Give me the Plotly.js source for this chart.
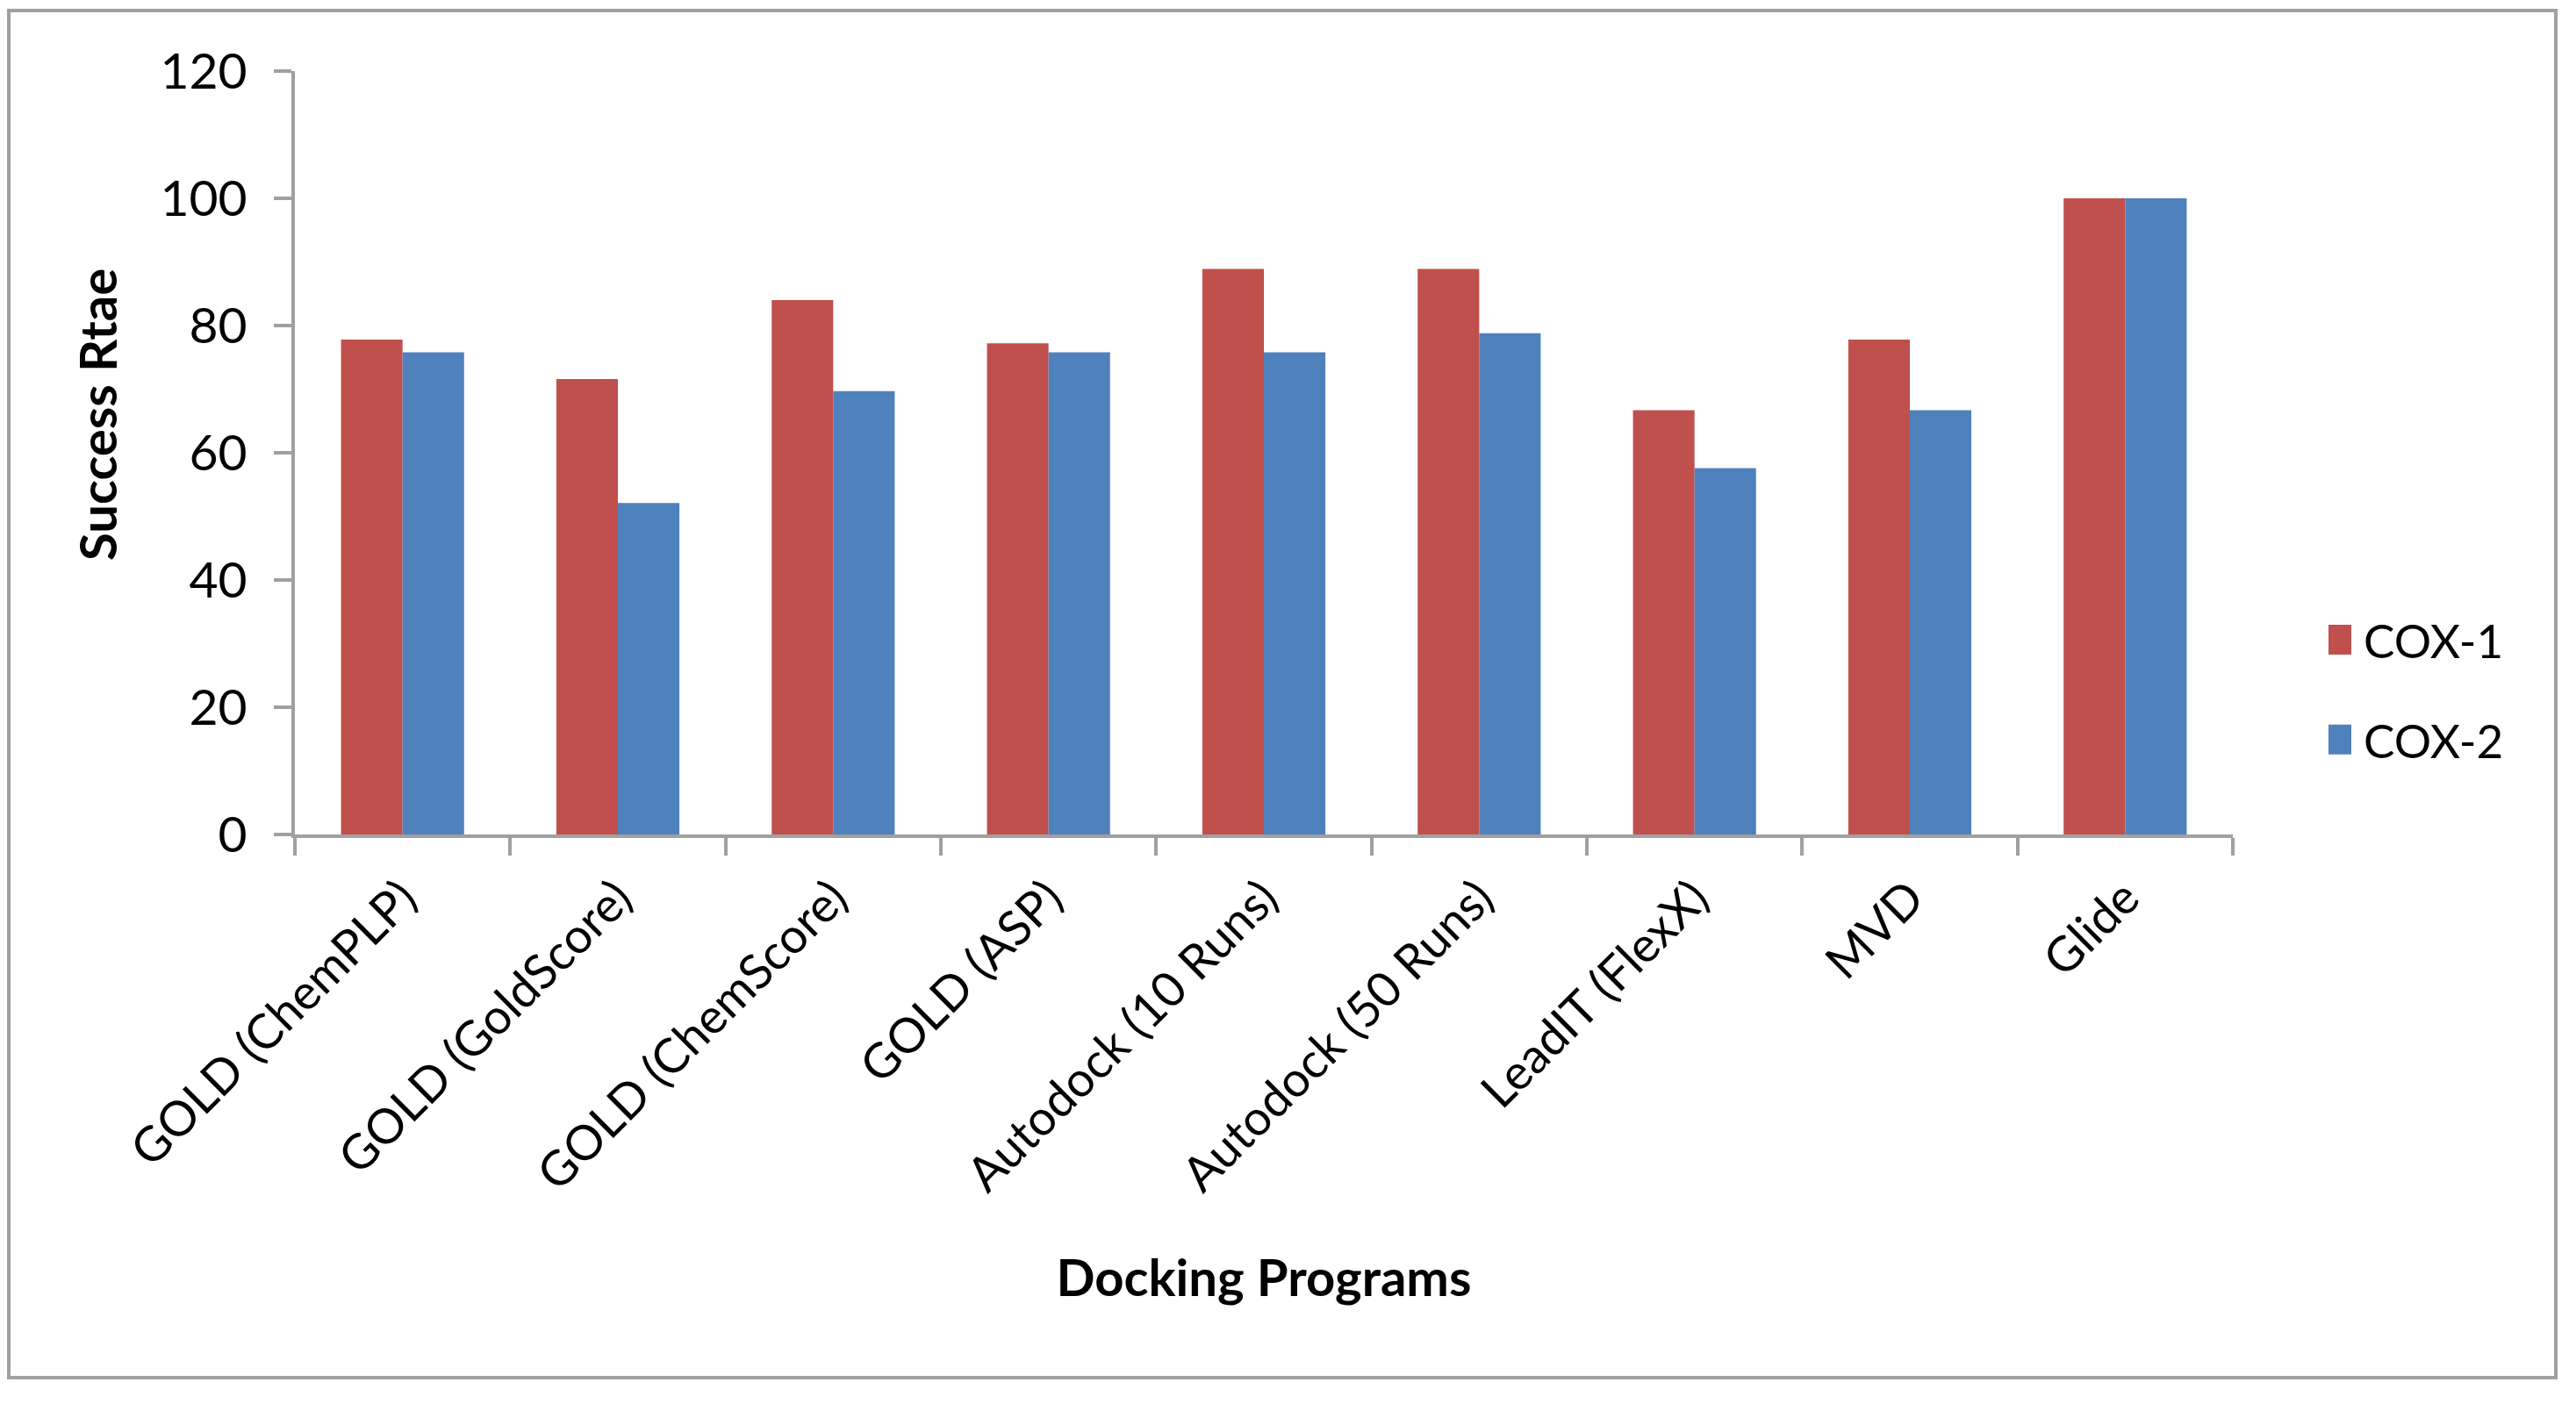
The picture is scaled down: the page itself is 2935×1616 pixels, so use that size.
<!DOCTYPE html>
<html>
<head>
<meta charset="utf-8">
<script src="https://cdn.plot.ly/plotly-3.0.1.min.js"></script>
<style>
  html, body { margin: 0; padding: 0; background: #ffffff; }
  #chart { width: 2935px; height: 1616px; }
</style>
</head>
<body>
<div id="chart"></div>
<script>
// ---- data ----
const programs = [
  "GOLD (ChemPLP)", "GOLD (GoldScore)", "GOLD (ChemScore)", "GOLD (ASP)",
  "Autodock (10 Runs)", "Autodock (50 Runs)", "LeadIT (FlexX)", "MVD", "Glide"
];
const cox1 = [77.8, 71.6, 84.0, 77.2, 88.9, 88.9, 66.7, 77.8, 100];
const cox2 = [75.8, 52.1, 69.7, 75.8, 75.8, 78.8, 57.6, 66.7, 100];
const seriesNames = ["COX-1", "COX-2"];
const seriesColors = ["#C0504D", "#4F81BD"];
const yTicks = [0, 20, 40, 60, 80, 100, 120];
const xTitle = "Docking Programs";
const yTitle = "Success Rtae";

const FONT = "Lato, 'Open Sans', sans-serif";
const AXIS_GRAY = "#A0A0A0";

const traces = [cox1, cox2].map((vals, i) => ({
  type: "bar",
  name: seriesNames[i],
  x: programs,
  y: vals,
  legendgroup: seriesNames[i],
  marker: { color: seriesColors[i], line: { width: 0 } },
  hoverinfo: "x+y+name"
}));

const W = 2935, H = 1616;
const L = 336, R = 2544, T = 81, B = 951;
const pw = R - L, ph = B - T;
const px = v => (v - L) / pw;
const py = v => (B - v) / ph;

const layout = {
  width: W,
  height: H,
  margin: { l: L, r: W - R, t: T, b: H - B, pad: 0 },
  paper_bgcolor: "#ffffff",
  plot_bgcolor: "#ffffff",
  font: { family: FONT, color: "#000000", size: 52 },
  barmode: "group",
  bargap: 0.4286,
  bargroupgap: 0,
  showlegend: true,
  legend: {
    x: px(2653), xanchor: "left",
    y: py(786), yanchor: "middle",
    traceorder: "grouped",
    tracegroupgap: 42,
    font: { family: FONT, size: 53, color: "#000000" },
    bgcolor: "rgba(0,0,0,0)",
    borderwidth: 0
  },
  xaxis: {
    type: "category",
    tickson: "boundaries",
    showline: true,
    linecolor: AXIS_GRAY,
    linewidth: 4,
    ticks: "outside",
    ticklen: 20,
    tickwidth: 4,
    tickcolor: AXIS_GRAY,
    tickangle: -45,
    ticklabelstandoff: 14,
    tickfont: { family: FONT, size: 55, color: "#000000" },
    showgrid: false,
    zeroline: false,
    title: {
      text: xTitle,
      font: { family: FONT, size: 58, color: "#000000", weight: "bold" },
      standoff: 69
    }
  },
  yaxis: {
    range: [0, 120],
    tickvals: yTicks,
    ticktext: yTicks.map(String),
    showline: true,
    linecolor: AXIS_GRAY,
    linewidth: 4,
    ticks: "outside",
    ticklen: 20,
    tickwidth: 4,
    tickcolor: AXIS_GRAY,
    ticklabelstandoff: 19,
    tickfont: { family: FONT, size: 57, color: "#000000" },
    showgrid: false,
    zeroline: false
  },
  annotations: [{
    text: yTitle,
    xref: "paper", yref: "paper",
    x: px(110), y: py(473),
    xanchor: "center", yanchor: "middle",
    textangle: -90,
    showarrow: false,
    font: { family: FONT, size: 58, color: "#000000", weight: "bold" }
  }],
  shapes: [{
    type: "rect",
    xref: "paper", yref: "paper",
    x0: px(10), x1: px(2912), y0: py(1570), y1: py(12),
    line: { color: AXIS_GRAY, width: 4 },
    fillcolor: "rgba(0,0,0,0)",
    layer: "below"
  }]
};

Plotly.newPlot("chart", traces, layout, { displayModeBar: false, staticPlot: true }).then(() => {
  // enlarge the legend colour squares to match the reference
  document.querySelectorAll("#chart .legend .legendpoints path").forEach(p => {
    p.setAttribute("d", "M-28,-17H6V17H-28Z");
  });
});
</script>
</body>
</html>
